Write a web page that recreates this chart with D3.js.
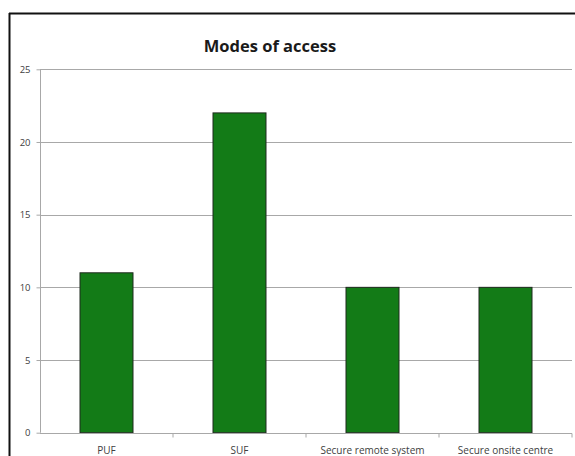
<!DOCTYPE html>
<html><head><meta charset="utf-8">
<script src="https://cdn.jsdelivr.net/npm/d3@7"></script>
<style>body{margin:0;background:#fff}svg{display:block}</style>
</head><body>
<script>
const categories = ["PUF", "SUF", "Secure remote system", "Secure onsite centre"];
const values = [11, 22, 10, 10];
const yTicks = [0, 5, 10, 15, 20, 25];
const title = "Modes of access";

const W = 575, H = 456;
const svg = d3.select("body").append("svg").attr("width", W).attr("height", H);
svg.append("rect").attr("width", W).attr("height", H).attr("fill", "#fff");

// frame
svg.append("line").attr("x1", 9.5).attr("x2", 9.5).attr("y1", 13).attr("y2", H).attr("stroke", "#111").attr("stroke-width", 2);
svg.append("line").attr("x1", 9).attr("x2", W).attr("y1", 13.5).attr("y2", 13.5).attr("stroke", "#111").attr("stroke-width", 2);

const xb = d3.scaleBand().domain(categories).range([40, 572]);
const y = d3.scaleLinear().domain([0, 25]).range([432.7, 69.3]);

// gridlines
svg.append("g").selectAll("line").data(yTicks.filter(d => d > 0)).join("line")
  .attr("x1", 40).attr("x2", 572).attr("y1", d => Math.round(y(d)) + 0.5).attr("y2", d => Math.round(y(d)) + 0.5)
  .attr("stroke", "#a8a8a8").attr("stroke-width", 1);

// y axis
const ya = svg.append("g").attr("transform", "translate(40.5,0)")
  .call(d3.axisLeft(y).tickValues(yTicks).tickSize(4).tickPadding(6));
ya.select(".domain").attr("stroke", "#a8a8a8").attr("d", `M0,${y(25)}V${y(0)}`);
ya.selectAll(".tick line").attr("stroke", "#a8a8a8");
ya.selectAll(".tick text").attr("fill", "#404040").style("font-family", "'Open Sans', sans-serif").style("font-size", "9.5px");

// bars
svg.append("g").selectAll("rect").data(values).join("rect")
  .attr("x", (d, i) => xb(categories[i]) + xb.bandwidth() / 2 - 26.5)
  .attr("width", 53)
  .attr("y", d => y(d))
  .attr("height", d => y(0) - y(d))
  .attr("fill", "#137b17").attr("stroke", "#1f2a1f").attr("stroke-width", 1);

// x axis
const xa = svg.append("g").attr("transform", `translate(0,${Math.round(y(0)) + 0.5})`)
  .call(d3.axisBottom(xb).tickSize(0).tickPadding(13));
xa.select(".domain").attr("stroke", "#a8a8a8").attr("d", "M40,0H572");
xa.selectAll(".tick text").attr("fill", "#404040").style("font-family", "'Open Sans', sans-serif").style("font-size", "10px");
// category boundary ticks
svg.append("g").selectAll("line").data(categories.slice(1).concat(["end"])).join("line")
  .attr("x1", (d, i) => 40 + xb.step() * (i + 1)).attr("x2", (d, i) => 40 + xb.step() * (i + 1))
  .attr("y1", Math.round(y(0)) + 0.5).attr("y2", Math.round(y(0)) + 4.5)
  .attr("stroke", "#a8a8a8");

// title
svg.append("text").attr("x", 270).attr("y", 52).attr("text-anchor", "middle")
  .style("font-family", "'Open Sans', sans-serif").style("font-weight", "bold").style("font-size", "16.5px")
  .attr("fill", "#1a1a1a").text(title);
</script>
</body></html>
